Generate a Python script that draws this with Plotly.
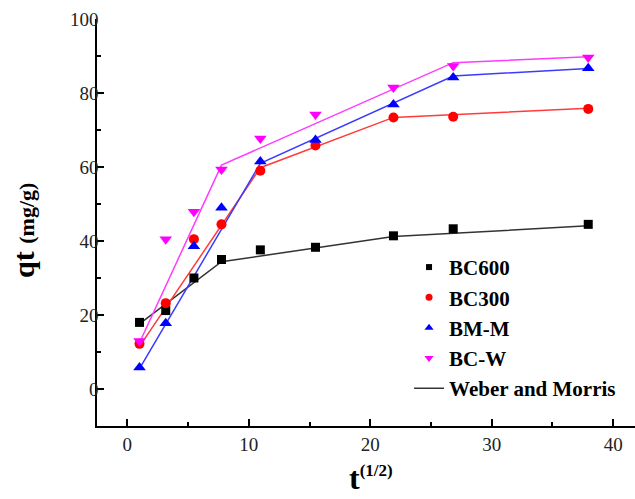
import plotly.graph_objects as go

# square root of contact time, t^(1/2)
t_half = [1.0, 3.16, 5.48, 7.75, 10.95, 15.49, 21.91, 26.83, 37.95]

# adsorbed amount q_t (mg/g)
q_bc600 = [18.0, 21.2, 30.0, 35.0, 37.6, 38.3, 41.4, 43.3, 44.5]
q_bc300 = [12.2, 23.2, 40.5, 44.5, 59.0, 65.8, 73.4, 73.6, 75.7]
q_bmm = [5.8, 17.8, 38.6, 49.0, 61.5, 67.3, 76.9, 84.2, 86.7]
q_bcw = [13.0, 40.5, 47.9, 59.3, 67.7, 74.2, 81.5, 87.3, 89.6]

# Weber-Morris intra-particle diffusion fits (multi-linear segments)
fit_bc600_x = [1.0, 7.75, 21.91, 37.95]
fit_bc600_y = [17.6, 34.4, 41.2, 44.1]
fit_bc300_x = [1.0, 10.95, 21.91, 37.95]
fit_bc300_y = [11.5, 59.8, 73.4, 75.9]
fit_bmm_x = [1.0, 10.95, 26.83, 37.95]
fit_bmm_y = [5.5, 61.0, 84.6, 86.6]
fit_bcw_x = [1.0, 7.75, 26.83, 37.95]
fit_bcw_y = [12.5, 60.5, 88.2, 89.8]

names = ["BC600", "BC300", "BM-M", "BC-W"]
fit_name = "Weber and Morris"
x_title = "<b>t<sup><span style='font-size:17px'>(1/2)</span></sup></b>"
y_title = "<b>qt <span style='font-size:22px'>(mg/g)</span></b>"

SERIF = "Liberation Serif"

series = [
    (names[0], q_bc600, fit_bc600_x, fit_bc600_y, "square", "#000000", "#333333", 9),
    (names[1], q_bc300, fit_bc300_x, fit_bc300_y, "circle", "#ff0000", "#ff3b3b", 10),
    (names[2], q_bmm, fit_bmm_x, fit_bmm_y, "triangle-up", "#0000ff", "#3b3bff", 11),
    (names[3], q_bcw, fit_bcw_x, fit_bcw_y, "triangle-down", "#ff00ff", "#ff3bff", 11),
]

fig = go.Figure()

# fitted lines underneath the markers
for name, q, fx, fy, sym, mcol, lcol, size in series:
    fig.add_trace(go.Scatter(
        x=fx, y=fy, mode="lines",
        line=dict(color=lcol, width=1.5),
        showlegend=False, hoverinfo="skip",
    ))

# experimental points
for name, q, fx, fy, sym, mcol, lcol, size in series:
    fig.add_trace(go.Scatter(
        x=t_half, y=q, mode="markers", name=name,
        marker=dict(symbol=sym, color=mcol, size=size, line=dict(width=0)),
        showlegend=False,
    ))

# legend keys (smaller symbols than the plotted points)
for rank, (name, q, fx, fy, sym, mcol, lcol, size) in enumerate(series):
    fig.add_trace(go.Scatter(
        x=[None], y=[None], mode="markers", name="<b>%s</b>" % name,
        marker=dict(symbol=sym, color=mcol, size=size - 3, line=dict(width=0)),
        legendrank=rank + 1,
    ))
fig.add_trace(go.Scatter(
    x=[None], y=[None], mode="lines", name="<b>%s</b>" % fit_name,
    line=dict(color="#333333", width=1.5), legendrank=5,
))

axis_common = dict(
    showline=True, linecolor="black", linewidth=1.5,
    showgrid=False, zeroline=False, mirror=False, automargin=False,
    ticks="inside", ticklen=7, tickwidth=1.5, tickcolor="black",
    tickfont=dict(family=SERIF, size=19, color="#222222"),
)

fig.update_xaxes(
    range=[-2.5, 41.8], tick0=0, dtick=10,
    minor=dict(ticks="inside", ticklen=4, tickwidth=1.5, tickcolor="black", dtick=5, tick0=0),
    **axis_common,
)
fig.update_yaxes(
    range=[-10, 100], tick0=0, dtick=20,
    minor=dict(ticks="inside", ticklen=4, tickwidth=1.5, tickcolor="black", dtick=10, tick0=0),
    ticklabelstandoff=-7,
    **axis_common,
)

# axis titles
fig.add_annotation(
    text=x_title, xref="paper", yref="paper", x=0.51, y=-0.178,
    xanchor="center", yanchor="bottom", showarrow=False,
    font=dict(family=SERIF, size=32, color="black"),
)
fig.add_annotation(
    text=y_title, xref="paper", yref="paper", x=-0.137, y=0.48,
    xanchor="center", yanchor="middle", textangle=-90, showarrow=False,
    font=dict(family=SERIF, size=30, color="black"),
)

fig.update_layout(
    width=635, height=499,
    margin=dict(l=97, r=0, t=19, b=73),
    paper_bgcolor="white", plot_bgcolor="white",
    legend=dict(
        x=0.58, y=0.44, xanchor="left", yanchor="top",
        bgcolor="rgba(0,0,0,0)", borderwidth=0,
        font=dict(family=SERIF, size=21, color="black"),
        tracegroupgap=0, itemwidth=30,
    ),
    showlegend=True,
)

fig.write_html("out.html")
